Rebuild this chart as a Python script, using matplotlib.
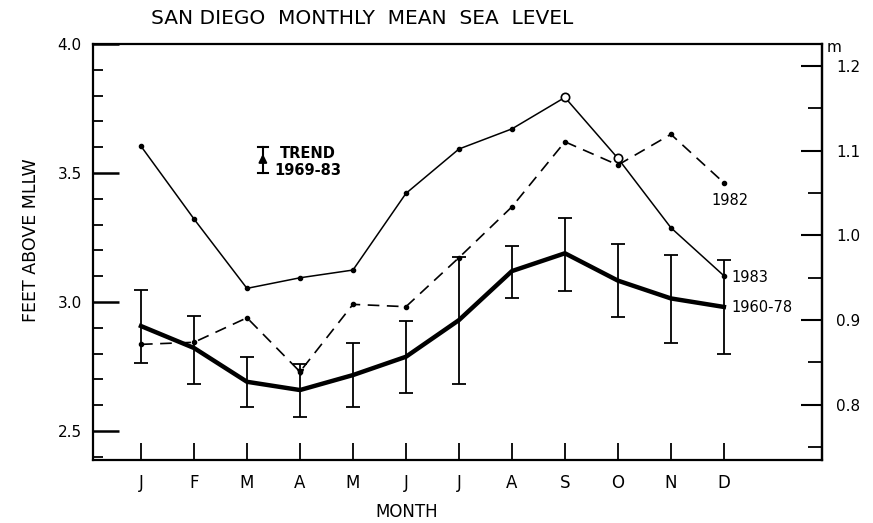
#!/usr/bin/env python
# coding: utf-8
"""
San Diego monthly mean sea level: 1960-78 mean with error bars, 1982 and 1983
"""

import matplotlib.pyplot as plt
import matplotlib as mpl
import numpy as np

months = ["J", "F", "M", "A", "M", "J", "J", "A", "S", "O", "N", "D"]

# 1960-78 mean and extent of the bars (ft above MLLW)
mean_6078 = [2.907, 2.822, 2.691, 2.659, 2.717, 2.788, 2.930, 3.120, 3.189, 3.083, 3.014, 2.981]
bar_top = [3.047, 2.946, 2.788, 2.760, 2.840, 2.926, 3.176, 3.218, 3.324, 3.225, 3.182, 3.162]
bar_bottom = [2.764, 2.682, 2.594, 2.555, 2.594, 2.646, 2.682, 3.014, 3.044, 2.943, 2.840, 2.798]

sl_1983 = [3.604, 3.322, 3.053, 3.094, 3.124, 3.421, 3.593, 3.671, 3.793, 3.557, 3.288, 3.102]
sl_1982 = [2.836, 2.844, 2.939, 2.730, 2.991, 2.982, 3.172, 3.369, 3.621, 3.531, 3.650, 3.462]

# trend 1969-83 shown as a bar (ft)
trend_low, trend_high = 3.5, 3.6

mpl.rcParams["font.family"] = "DejaVu Sans"
mpl.rcParams["font.size"] = 11


def ft_to_m(f):
    return f * 0.3048 + 0.007


def m_to_ft(m):
    return (m - 0.007) / 0.3048


x = np.arange(1, 13)
mean = np.array(mean_6078)
yerr = [mean - np.array(bar_bottom), np.array(bar_top) - mean]

fig = plt.figure(figsize=(8.73, 5.23), dpi=100)
ax = fig.add_axes([0.1065, 0.1205, 0.835, 0.7954])

ax.errorbar(x, mean, yerr=yerr, color="black", lw=3.2, elinewidth=1.3,
            capsize=5, capthick=1.3, zorder=3)
ax.plot(x, sl_1983, color="black", lw=1.1, marker="o", ms=3, zorder=4)
ax.plot(x[8:10], sl_1983[8:10], ls="none", marker="o", ms=6, mfc="white",
        mec="black", mew=1.2, zorder=5)
ax.plot(x, sl_1982, color="black", lw=1.2, ls=(0, (7, 4.5)), marker="o", ms=3, zorder=4)
ax.plot(x[3], sl_1982[3], marker="v", ms=5, color="black", zorder=5)

# trend bar
tx = 3.3
ax.plot([tx, tx], [trend_low, trend_high], color="black", lw=1.5)
ax.annotate("", xy=(tx, trend_high - 0.015), xytext=(tx, trend_low + 0.03),
            arrowprops=dict(arrowstyle="-|>", color="black", lw=1.5, mutation_scale=12))
ax.plot([tx - 0.1, tx + 0.1], [trend_high, trend_high], color="black", lw=1.5)
ax.plot([tx - 0.1, tx + 0.1], [trend_low, trend_low], color="black", lw=1.5)
ax.text(4.15, 3.543, "TREND\n1969-83", ha="center", va="center", fontsize=10.5,
        fontweight="bold", linespacing=1.1)

ax.text(12.11, 3.395, "1982", ha="center", va="center", fontsize=10.5)
ax.text(12.15, 3.097, "1983", ha="left", va="center", fontsize=10.5)
ax.text(12.15, 2.977, "1960-78", ha="left", va="center", fontsize=10.5)

ax.set_xlim(0.094, 13.85)
ax.set_ylim(2.388, 4.0)
ax.set_xticks(x, months)
ax.set_yticks([2.5, 3.0, 3.5, 4.0])
ax.set_yticks(np.arange(2.4, 4.0, 0.1), minor=True)
ax.tick_params(axis="x", direction="in", length=12, width=1.3, pad=10, labelsize=12)
ax.tick_params(axis="y", which="major", direction="in", length=19, width=1.8, pad=8)
ax.tick_params(axis="y", which="minor", direction="in", length=7, width=1.3)
for s in ax.spines.values():
    s.set_linewidth(1.6)

sec = ax.secondary_yaxis("right", functions=(ft_to_m, m_to_ft))
sec.set_yticks([0.8, 0.9, 1.0, 1.1, 1.2])
sec.set_yticks([0.75, 0.85, 0.95, 1.05, 1.15], minor=True)
sec.tick_params(which="major", direction="in", length=15, width=1.5, pad=10)
sec.tick_params(which="minor", direction="in", length=10, width=1.3)
sec.spines["right"].set_linewidth(1.6)

fig.text(0.955, 0.895, "m", ha="center", va="bottom", fontsize=11)
fig.text(0.415, 0.965, "SAN DIEGO  MONTHLY  MEAN  SEA  LEVEL", ha="center", va="center",
         fontsize=14.5)
fig.text(407 / 873, 1 - 512 / 523, "MONTH", ha="center", va="center", fontsize=12)
fig.text(0.035, 0.54, "FEET ABOVE MLLW", rotation=90, ha="center", va="center", fontsize=12.5)

fig.savefig("out.png", dpi=100)
